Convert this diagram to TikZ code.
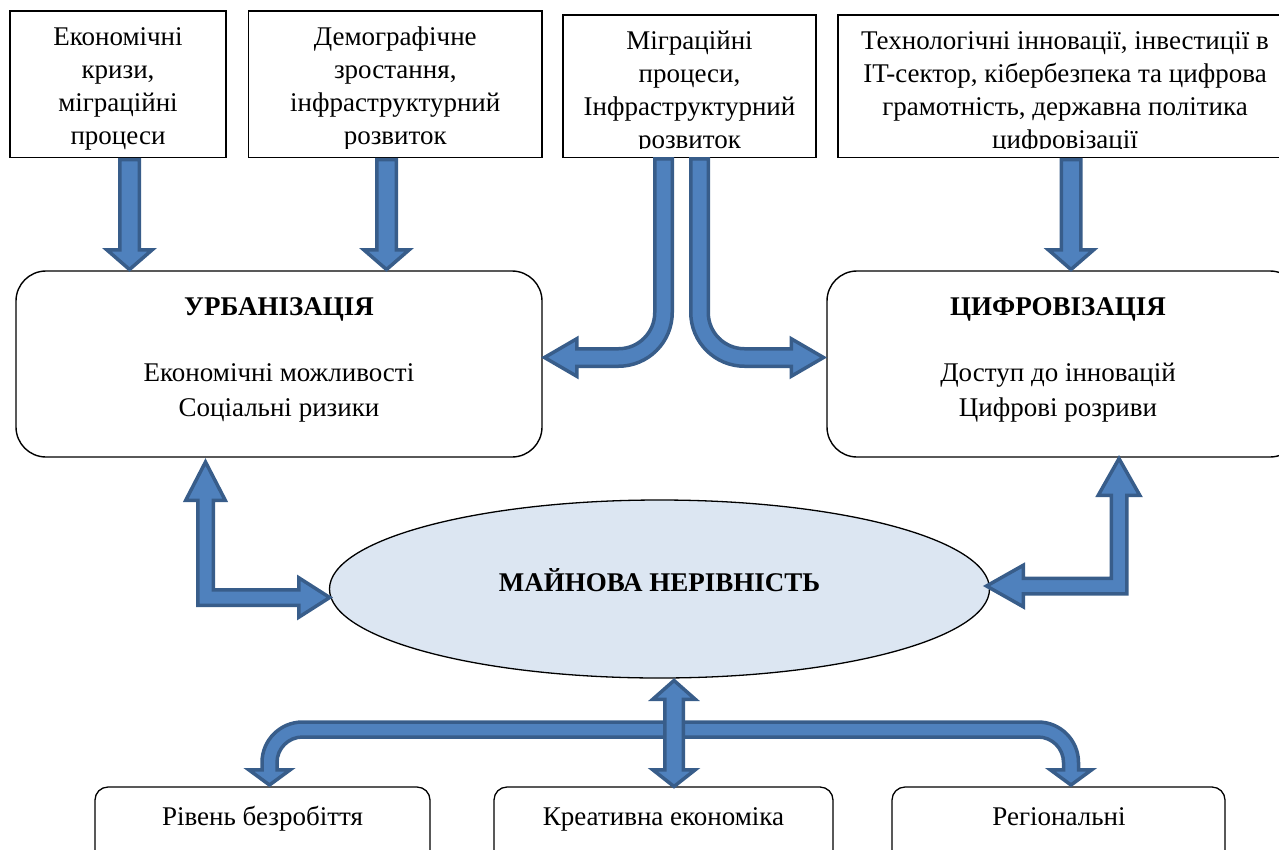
\documentclass[tikz,border=0pt]{standalone}
\usepackage{fontspec}
\setmainfont{Liberation Serif}
\usetikzlibrary{shapes.geometric}
\definecolor{arrfill}{HTML}{4F81BD}
\definecolor{arrline}{HTML}{385D8A}
\definecolor{ellfill}{HTML}{DCE6F2}
\newcommand\txtlines[1]{\begin{tabular}[t]{@{}c@{}}#1\end{tabular}}
\newcommand\blockdown[5]{%
  \draw[barrow] (#1) ++(-#3,0) -- ++(0,#2) -- ++(#3-#4,0) -- ++(#4,#5)
     -- ++(#4,-#5) -- ++(#3-#4,0) -- ++(0,-#2) -- cycle;}
\begin{document}
\begin{tikzpicture}[x=1pt,y=-1pt,
  fbox/.style={draw=black, line width=1.3pt, fill=white, rectangle, inner sep=0pt, outer sep=0pt},
  rbox/.style={fbox, rounded corners=30pt, line width=1.4pt},
  sbox/.style={fbox, rounded corners=13pt},
  txt/.style={inner sep=0pt, anchor=base, font=\fontsize{27}{33}\selectfont},
  txtb/.style={txt, font=\fontsize{27}{33}\selectfont\bfseries},
  txtw/.style={txt, font=\fontsize{27}{35.5}\selectfont},
  barrow/.style={fill=arrfill, draw=arrline, line width=3.5pt, line join=miter, miter limit=10},
]
\path[use as bounding box] (0,0) rectangle (1279,849);
\clip (0,0) rectangle (1279,849);

% top boxes
\node[fbox, minimum width=216pt, minimum height=146.5pt] (b1) at (118,84.25) {};
\node[fbox, minimum width=293.5pt, minimum height=146.5pt] (b2) at (395.25,84.25) {};
\node[fbox, minimum width=253pt, minimum height=142.5pt] (b3) at (689.5,86.25) {};
\node[fbox, minimum width=454pt, minimum height=142.5pt] (b4) at (1065,86.25) {};

\node[txt] (t1) at (118,45) {\txtlines{Економічні\\кризи,\\міграційні\\процеси}};
\begin{scope}
  \clip (248,11) rectangle (543,148.5);
  \node[txt] (t2) at (395.25,45.5) {\txtlines{Демографічне\\зростання,\\інфраструктурний\\розвиток}};
\end{scope}
\begin{scope}
  \clip (563,15) rectangle (816,148.3);
  \node[txt] (t3) at (689.5,49) {\txtlines{Міграційні\\процеси,\\Інфраструктурний\\розвиток}};
\end{scope}
\begin{scope}
  \clip (838,15) rectangle (1292,148.3);
  \node[txt] (t4) at (1065,49) {\txtlines{Технологічні інновації, інвестиції в\\IT-сектор, кібербезпека та цифрова\\грамотність, державна політика\\цифровізації}};
\end{scope}

% main boxes
\node[rbox, minimum width=526pt, minimum height=186pt] (urb) at (279,364) {};
\node[rbox, minimum width=473pt, minimum height=186pt] (dig) at (1063.5,364) {};
\node[txtb] (urbh) at (279,315) {УРБАНІЗАЦІЯ};
\node[txtw] (urbt) at (279,381) {\txtlines{Економічні можливості\\Соціальні ризики}};
\node[txtb] (digh) at (1058,315) {ЦИФРОВІЗАЦІЯ};
\node[txtw] (digt) at (1058,381) {\txtlines{Доступ до інновацій\\Цифрові розриви}};

% ellipse
\node[ellipse, draw=black, line width=1.3pt, fill=ellfill, inner sep=0pt,
      minimum width=660pt, minimum height=178pt] (ell) at (659.5,589) {};
\node[txtb] (ellt) at (659.5,591) {МАЙНОВА НЕРІВНІСТЬ};

% bottom boxes
\node[sbox, minimum width=335pt, minimum height=83pt] (ba) at (262.5,828.5) {};
\node[sbox, minimum width=339pt, minimum height=83pt] (bb) at (663.5,828.5) {};
\node[sbox, minimum width=333pt, minimum height=83pt] (bc) at (1058.5,828.5) {};
\node[txt] (ta) at (262.5,825) {Рівень безробіття};
\node[txt] (tb) at (663.5,825) {Креативна економіка};
\node[txt] (tc) at (1059,825) {Регіональні};

% straight arrows from top boxes
\coordinate (a1) at (129.5,159.5);
\coordinate (a2) at (386.5,159.5);
\coordinate (a4) at (1071,159.5);
\blockdown{a1}{90.25}{9.75}{22.75}{19.75}
\blockdown{a2}{90.25}{9.75}{22.75}{19.75}
\blockdown{a4}{90.25}{9.75}{22.75}{19.75}

% bent pipes from box 3
\draw[barrow] (672.25,158.75) -- (672.25,312.5)
  .. controls (672.25,342.19) and (648.19,366.25) .. (618.5,366.25)
  -- (576.75,366.25) -- (576.75,376.25) -- (544.5,357.5) -- (576.75,338.75)
  -- (576.75,348.75) -- (618.5,348.75)
  .. controls (638.52,348.75) and (654.75,332.52) .. (654.75,312.5)
  -- (654.75,158.75) -- cycle;
\draw[barrow] (690.75,158.75) -- (690.75,312.5)
  .. controls (690.75,342.19) and (714.81,366.25) .. (744.5,366.25)
  -- (791.25,366.25) -- (791.25,376.25) -- (823.5,357.5) -- (791.25,338.75)
  -- (791.25,348.75) -- (744.5,348.75)
  .. controls (724.48,348.75) and (708.25,332.52) .. (708.25,312.5)
  -- (708.25,158.75) -- cycle;

% L-shaped double arrows
\draw[barrow] (205.5,462) -- (225.25,500.25) -- (213.25,500.25) -- (213.25,589.75)
  -- (298.75,589.75) -- (298.75,577.75) -- (329.7,597.5) -- (298.75,617.25)
  -- (298.75,605.25) -- (197.75,605.25) -- (197.75,500.25) -- (185.75,500.25) -- cycle;
\draw[barrow] (1119,458.6) -- (1139.75,495.25) -- (1126.75,495.25) -- (1126.75,593.75)
  -- (1023.25,593.75) -- (1023.25,606.75) -- (986.5,586) -- (1023.25,565.25)
  -- (1023.25,578.25) -- (1111.25,578.25) -- (1111.25,495.25) -- (1098.25,495.25) -- cycle;

% bottom branching arrow
\draw[barrow] (269.5,785) -- (248.75,769.75) -- (262,769.75) -- (262,762.5)
  .. controls (262,740.13) and (280.13,722) .. (302.5,722)
  -- (1038,722)
  .. controls (1060.37,722) and (1078.5,740.13) .. (1078.5,762.5)
  -- (1078.5,769.75) -- (1091.75,769.75) -- (1071,785) -- (1050.25,769.75)
  -- (1063.5,769.75) -- (1063.5,762.5)
  .. controls (1063.5,748.42) and (1052.08,737) .. (1038,737)
  -- (302.5,737)
  .. controls (288.42,737) and (277,748.42) .. (277,762.5)
  -- (277,769.75) -- (290.25,769.75) -- cycle;
% central double arrow
\draw[barrow] (674,680.5) -- (695.25,699.25) -- (683.25,699.25) -- (683.25,769.75)
  -- (695.25,769.75) -- (674,786.5) -- (652.75,769.75) -- (664.75,769.75)
  -- (664.75,699.25) -- (652.75,699.25) -- cycle;
\end{tikzpicture}
\end{document}
